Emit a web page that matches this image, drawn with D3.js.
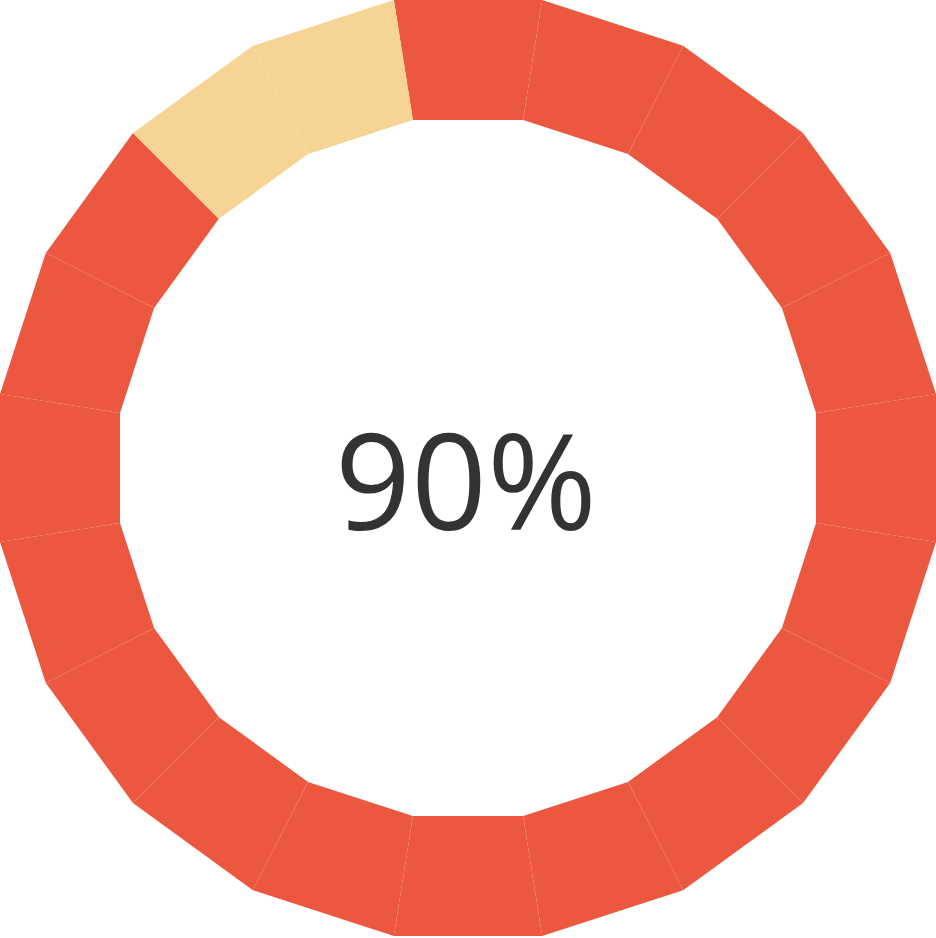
<!DOCTYPE html>
<html><head><meta charset="utf-8">
<script src="https://cdn.jsdelivr.net/npm/d3@7"></script>
<style>html,body{margin:0;padding:0;background:#fff;overflow:hidden}</style>
</head><body>
<svg id="chart" width="936" height="938"></svg>
<script>
const percent = 90;
const segmentCount = 20;
const filledColor = "#EB573F";
const emptyColor = "#F6D493";
const labelText = percent + "%";

const svg = d3.select("#chart");
const cx = 468, cy = 468;
const outerR = 468 / Math.cos(Math.PI / segmentCount);
const innerR = 348 / Math.cos(Math.PI / segmentCount);

const segments = d3.range(segmentCount).map(i => ({ index: i, filled: i < Math.round(percent / 100 * segmentCount) }));
const pie = d3.pie().value(1).sort(null)
  .startAngle(-Math.PI / segmentCount)
  .endAngle(2 * Math.PI - Math.PI / segmentCount);
const arcs = pie(segments);

const g = svg.append("g").attr("transform", `translate(${cx},${cy})`);
const pt = (r, a) => [r * Math.sin(a), -r * Math.cos(a)];
g.selectAll("path.seg").data(arcs).join("path")
  .attr("class", "seg")
  .attr("d", d => {
    const p = d3.path();
    const a = pt(outerR, d.startAngle), b = pt(outerR, d.endAngle),
          c = pt(innerR, d.endAngle), e = pt(innerR, d.startAngle);
    p.moveTo(...a); p.lineTo(...b); p.lineTo(...c); p.lineTo(...e); p.closePath();
    return p.toString();
  })
  .attr("fill", d => d.data.filled ? filledColor : emptyColor);

svg.append("text")
  .attr("x", 466).attr("y", 530)
  .attr("text-anchor", "middle")
  .attr("font-family", "'Open Sans', sans-serif")
  .attr("font-size", 133)
  .attr("fill", "#333333")
  .text(labelText);
</script>
</body></html>
